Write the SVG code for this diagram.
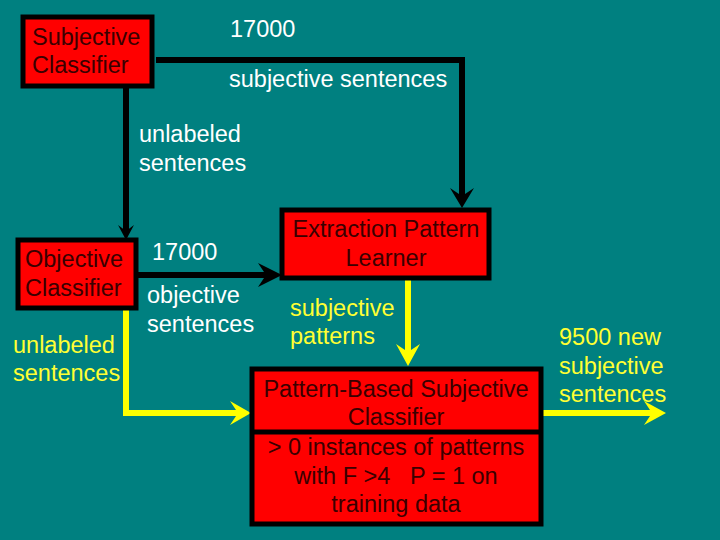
<svg xmlns="http://www.w3.org/2000/svg" width="720" height="540" viewBox="0 0 720 540">
<defs>
<style>
.box{fill:#ff0000;stroke:#000;stroke-width:5}
.bt{font-family:"Liberation Sans",Arial,sans-serif;font-size:23.5px;fill:#3a0000}
.w{font-family:"Liberation Sans",Arial,sans-serif;font-size:23.5px;fill:#fff}
.y{font-family:"Liberation Sans",Arial,sans-serif;font-size:23.5px;fill:#ffff33}
.k{fill:none;stroke:#000;stroke-width:6}
.yl{fill:none;stroke:#ffff00;stroke-width:6}
</style>
</defs>
<rect width="720" height="540" fill="#008080"/>
<g id="connectors">
<path class="k" d="M156,60 H462 V200"/>
<path d="M450,188 L462,208 L474,188 L462,196 Z" fill="#000"/>
<path class="k" d="M126,87 V232"/>
<path d="M118,225 L126,240 L134,225 L126,231 Z" fill="#000"/>
<path class="k" d="M137,275 H276"/>
<path d="M258,263 L282,275 L258,287 L266,275 Z" fill="#000"/>
<path class="yl" d="M408,279 V360"/>
<path d="M396,344 L408,366 L420,344 L408,352 Z" fill="#ffff00"/>
<path class="yl" d="M126,308 V413 H244"/>
<path d="M230,401 L251,413 L230,425 L238,413 Z" fill="#ffff00"/>
<path class="yl" d="M542,413 H658"/>
<path d="M644,401 L666,413 L644,425 L652,413 Z" fill="#ffff00"/>
</g>
<g id="subjective-classifier"><rect class="box" x="23" y="17" width="129" height="69"/><text class="bt" x="32" y="45">Subjective</text><text class="bt" x="32" y="73">Classifier</text></g>
<g id="objective-classifier"><rect class="box" x="18" y="240" width="118" height="68"/><text class="bt" x="25" y="267">Objective</text><text class="bt" x="25" y="296">Classifier</text></g>
<g id="extraction-learner"><rect class="box" x="282" y="210" width="207" height="68"/><text class="bt" x="386" y="237" text-anchor="middle">Extraction Pattern</text><text class="bt" x="386" y="266" text-anchor="middle">Learner</text></g>
<g id="pattern-classifier"><rect class="box" x="252" y="369" width="289" height="155"/><line x1="252" y1="432" x2="541" y2="432" stroke="#000" stroke-width="5"/>
<text class="bt" x="396" y="397" text-anchor="middle">Pattern-Based Subjective</text><text class="bt" x="396" y="425" text-anchor="middle">Classifier</text>
<text class="bt" x="396" y="455" text-anchor="middle">&gt; 0 instances of patterns</text><text class="bt" x="396" y="484" text-anchor="middle" xml:space="preserve">with F &gt;4   P = 1 on</text><text class="bt" x="396" y="512" text-anchor="middle">training data</text></g>
<g id="labels">
<text class="w" x="230" y="37">17000</text>
<text class="w" x="229" y="87">subjective sentences</text>
<text class="w" x="139" y="142">unlabeled</text><text class="w" x="139" y="171">sentences</text>
<text class="w" x="152" y="260">17000</text>
<text class="w" x="147" y="303">objective</text><text class="w" x="147" y="332">sentences</text>
<text class="y" x="290" y="316">subjective</text><text class="y" x="290" y="344">patterns</text>
<text class="y" x="13" y="353">unlabeled</text><text class="y" x="13" y="381">sentences</text>
<text class="y" x="559" y="345">9500 new</text><text class="y" x="559" y="374">subjective</text><text class="y" x="559" y="402">sentences</text>
</g>
</svg>
